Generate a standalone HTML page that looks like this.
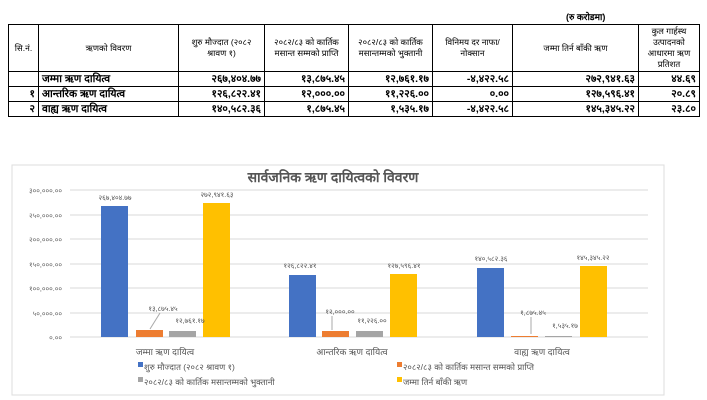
<!DOCTYPE html><html><head><meta charset="utf-8"><style>
body{margin:0;width:707px;height:400px;background:#fff;font-family:"Liberation Sans",sans-serif;position:relative;overflow:hidden}
table{position:absolute;left:8px;top:24px;border-collapse:collapse;font-size:9px}
td{border:1px solid #000;padding:0 3px}
.h td{text-align:center;height:46px;font-size:8.5px;line-height:11px}
.r td{height:13px;font-weight:bold;font-size:10.5px;text-align:right}
</style></head><body>
<div style="position:absolute;left:566px;top:10px;font-size:9px;font-weight:bold">(रु करोडमा)</div>
<table>
<colgroup><col style="width:30px"><col style="width:140px"><col style="width:86px"><col style="width:84px"><col style="width:84px"><col style="width:80px"><col style="width:126px"><col style="width:61px"></colgroup>
<tr class="h"><td>सि.नं.</td><td>ऋणको विवरण</td><td>शुरु मौज्दात (२०८२ श्रावण १)</td><td>२०८२/८३ को कार्तिक मसान्त सम्मको प्राप्ति</td><td>२०८२/८३ को कार्तिक मसान्तम्मको भुक्तानी</td><td>विनिमय दर नाफा/नोक्सान</td><td>जम्मा तिर्न बाँकी ऋण</td><td>कुल गार्हस्थ उत्पादनको आधारमा ऋण प्रतिशत</td></tr>
<tr class="r"><td></td><td style="text-align:left">जम्मा ऋण दायित्व</td><td>२६७,४०४.७७</td><td>१३,८७५.४५</td><td>१२,७६१.१७</td><td>-४,४२२.५८</td><td>२७२,९४१.६३</td><td>४४.६९</td></tr>
<tr class="r"><td>१</td><td style="text-align:left">आन्तरिक ऋण दायित्व</td><td>१२६,८२२.४१</td><td>१२,०००.००</td><td>११,२२६.००</td><td>०.००</td><td>१२७,५९६.४१</td><td>२०.८९</td></tr>
<tr class="r"><td>२</td><td style="text-align:left">वाह्य ऋण दायित्व</td><td>१४०,५८२.३६</td><td>१,८७५.४५</td><td>१,५३५.१७</td><td>-४,४२२.५८</td><td>१४५,३४५.२२</td><td>२३.८०</td></tr>
</table>
<svg style="position:absolute;left:0;top:0" width="707" height="400" font-family="Liberation Sans, sans-serif">
<rect x="12" y="165" width="652" height="230" fill="#fff" stroke="#ddd"/>
<text x="333" y="182" font-size="14" font-weight="bold" fill="#555" text-anchor="middle">सार्वजनिक ऋण दायित्वको विवरण</text>
<g stroke="#d9d9d9"><line x1="70" x2="648" y1="190" y2="190"/><line x1="70" x2="648" y1="215" y2="215"/><line x1="70" x2="648" y1="239" y2="239"/><line x1="70" x2="648" y1="264" y2="264"/><line x1="70" x2="648" y1="288" y2="288"/><line x1="70" x2="648" y1="313" y2="313"/><line x1="70" x2="648" y1="337" y2="337"/></g>
<g font-size="7" fill="#666" text-anchor="end"><text x="62" y="193">३००,०००.००</text><text x="62" y="218">२५०,०००.००</text><text x="62" y="242">२००,०००.००</text><text x="62" y="267">१५०,०००.००</text><text x="62" y="291">१००,०००.००</text><text x="62" y="316">५०,०००.००</text><text x="62" y="340">०.००</text></g>
<g fill="#4472c4"><rect x="101" y="206" width="27" height="131"/><rect x="289" y="275" width="27" height="62"/><rect x="477" y="268" width="27" height="69"/></g>
<g fill="#ed7d31"><rect x="136" y="330" width="27" height="7"/><rect x="322" y="331" width="27" height="6"/><rect x="511" y="336" width="27" height="1"/></g>
<g fill="#a5a5a5"><rect x="169" y="331" width="27" height="6"/><rect x="356" y="331" width="27" height="6"/><rect x="545" y="336" width="27" height="1"/></g>
<g fill="#ffc000"><rect x="203" y="203" width="27" height="134"/><rect x="390" y="274" width="27" height="63"/><rect x="580" y="266" width="27" height="71"/></g>
<g stroke="#aaa"><line x1="150" y1="329" x2="160" y2="313"/><line x1="332" y1="330" x2="332" y2="316"/><line x1="531" y1="334" x2="531" y2="317"/></g>
<g font-size="7" fill="#555" text-anchor="middle"><text x="115" y="200">२६७,४०४.७७</text><text x="217" y="197">२७२,९४१.६३</text><text x="163" y="311">१३,८७५.४५</text><text x="190" y="323">१२,७६१.१७</text><text x="300" y="268">१२६,८२२.४१</text><text x="404" y="268">१२७,५९६.४१</text><text x="340" y="314">१२,०००.००</text><text x="372" y="323">११,२२६.००</text><text x="491" y="261">१४०,५८२.३६</text><text x="593" y="260">१४५,३४५.२२</text><text x="533" y="315">१,८७५.४५</text><text x="565" y="328">१,५३५.१७</text></g>
<g font-size="9" fill="#555" text-anchor="middle"><text x="165" y="355">जम्मा ऋण दायित्व</text><text x="352" y="355">आन्तरिक ऋण दायित्व</text><text x="542" y="355">वाह्य ऋण दायित्व</text></g>
<g font-size="8.5" fill="#555"><rect x="138" y="362" width="5" height="5" fill="#4472c4"/><text x="144" y="370">शुरु मौज्दात (२०८२ श्रावण १)</text>
<rect x="397" y="362" width="5" height="5" fill="#ed7d31"/><text x="403" y="370">२०८२/८३ को कार्तिक मसान्त सम्मको प्राप्ति</text>
<rect x="138" y="377" width="5" height="5" fill="#a5a5a5"/><text x="144" y="385">२०८२/८३ को कार्तिक मसान्तम्मको भुक्तानी</text>
<rect x="397" y="377" width="5" height="5" fill="#ffc000"/><text x="403" y="385">जम्मा तिर्न बाँकी ऋण</text></g>
</svg>
</body></html>
